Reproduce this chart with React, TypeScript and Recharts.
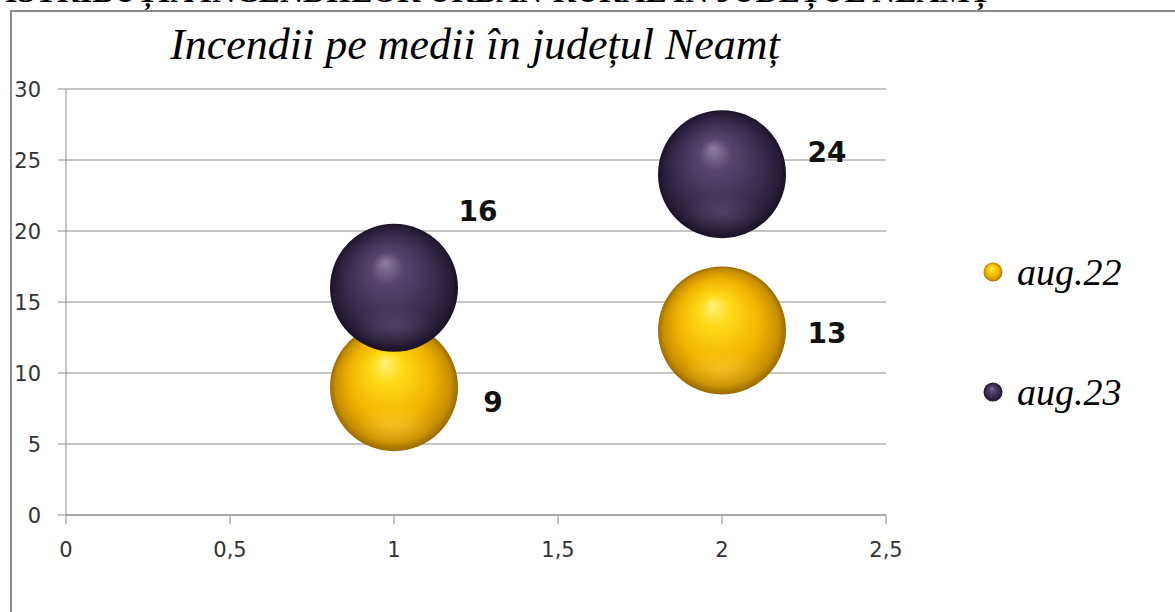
import React from 'react';
import { ScatterChart, Scatter, XAxis, YAxis, CartesianGrid } from 'recharts';

// series and axis values
const seriesNames = ['aug.22', 'aug.23'];
const xValues = [1, 2];
const aug22Values = [9, 13];
const aug23Values = [16, 24];
const xTicks = [0, 0.5, 1, 1.5, 2, 2.5];
const yTicks = [0, 5, 10, 15, 20, 25, 30];

const aug22Data = xValues.map((x, i) => ({ x, y: aug22Values[i] }));
const aug23Data = xValues.map((x, i) => ({ x, y: aug23Values[i] }));

// where each data label sits relative to its bubble centre
const labelNudge22 = [{ dx: 99, dy: 15 }, { dx: 105, dy: 3 }];
const labelNudge23 = [{ dx: 84, dy: -76 }, { dx: 105, dy: -22 }];

const BUBBLE_R = 64;

const makeSphere = (grad: string, rim: string, nudges: { dx: number; dy: number }[]) => (props: any) => {
  const { cx, cy, payload } = props;
  const i = xValues.indexOf(payload.x);
  const n = nudges[i] || { dx: 100, dy: 0 };
  return (
    <g>
      <circle cx={cx} cy={cy} r={BUBBLE_R} fill={`url(#${grad})`} />
      <ellipse cx={cx} cy={cy + BUBBLE_R * 0.6} rx={BUBBLE_R * 0.62} ry={BUBBLE_R * 0.32} fill={`url(#${rim})`} />
      <text
        x={cx + n.dx}
        y={cy + n.dy}
        textAnchor="middle"
        dominantBaseline="central"
        fontFamily="'DejaVu Sans', sans-serif"
        fontWeight="bold"
        fontSize={28}
        fill="#111"
      >
        {payload.y}
      </text>
    </g>
  );
};

const fmt = (v: number) => String(v).replace('.', ',');

const XTick = (props: any) => {
  const { x, y, payload } = props;
  return (
    <text x={x} y={y + 31} textAnchor="middle" fill="#333" fontSize={21} fontFamily="'DejaVu Sans', sans-serif">
      {fmt(payload.value)}
    </text>
  );
};

const YTick = (props: any) => {
  const { y, payload } = props;
  return (
    <text x={41} y={y + 8} textAnchor="end" fill="#333" fontSize={21} fontFamily="'DejaVu Sans', sans-serif">
      {fmt(payload.value)}
    </text>
  );
};

const App: React.FC = () => {
  return (
    <div style={{ position: 'absolute', left: 0, top: 0, width: 1175, height: 612, background: '#fff', overflow: 'hidden' }}>
      <div
        style={{
          position: 'absolute',
          left: -18,
          top: -25,
          whiteSpace: 'nowrap',
          lineHeight: '32px',
          fontFamily: "'Liberation Serif', serif",
          fontWeight: 'bold',
          fontSize: 32,
          color: '#000',
        }}
      >
        DISTRIBUȚIA INCENDIILOR URBAN-RURAL ÎN JUDEȚUL NEAMȚ
      </div>
      <div
        style={{
          position: 'absolute',
          left: 10,
          top: 10,
          width: 1175,
          height: 610,
          borderLeft: '2px solid #8a8a8a',
          borderTop: '2px solid #8a8a8a',
        }}
      />
      <div
        style={{
          position: 'absolute',
          left: 0,
          width: 950,
          top: 19,
          textAlign: 'center',
          fontFamily: "'Liberation Serif', serif",
          fontStyle: 'italic',
          fontSize: 44,
          color: '#000',
        }}
      >
        Incendii pe medii în județul Neamț
      </div>
      <div style={{ position: 'absolute', left: 0, top: 0 }}>
        <ScatterChart width={1175} height={612} margin={{ top: 89, right: 289, bottom: 57, left: 10 }}>
          <defs>
            <radialGradient id="goldSphere" cx="50%" cy="50%" r="50%" fx="43%" fy="30%">
              <stop offset="0%" stopColor="#fff27a" />
              <stop offset="25%" stopColor="#ffd915" />
              <stop offset="65%" stopColor="#f0b400" />
              <stop offset="90%" stopColor="#c88f00" />
              <stop offset="100%" stopColor="#9a6c00" />
            </radialGradient>
            <radialGradient id="goldRim" cx="50%" cy="50%" r="50%">
              <stop offset="0%" stopColor="#ffd84a" stopOpacity={0.45} />
              <stop offset="100%" stopColor="#ffd84a" stopOpacity={0} />
            </radialGradient>
            <radialGradient id="purpleSphere" cx="50%" cy="50%" r="50%" fx="43%" fy="30%">
              <stop offset="0%" stopColor="#8e7fa2" />
              <stop offset="25%" stopColor="#56466e" />
              <stop offset="65%" stopColor="#3c2e52" />
              <stop offset="92%" stopColor="#261c36" />
              <stop offset="100%" stopColor="#1a1226" />
            </radialGradient>
            <radialGradient id="purpleRim" cx="50%" cy="50%" r="50%">
              <stop offset="0%" stopColor="#6a5a82" stopOpacity={0.45} />
              <stop offset="100%" stopColor="#6a5a82" stopOpacity={0} />
            </radialGradient>
          </defs>
          <CartesianGrid horizontal vertical={false} stroke="#8c8c8c" />
          <XAxis
            type="number"
            dataKey="x"
            domain={[0, 2.5]}
            ticks={xTicks}
            interval={0}
            stroke="#8c8c8c"
            tickSize={9}
            height={40}
            tick={<XTick />}
          />
          <YAxis
            type="number"
            dataKey="y"
            domain={[0, 30]}
            ticks={yTicks}
            interval={0}
            stroke="#8c8c8c"
            tickSize={8}
            width={56}
            tick={<YTick />}
          />
          <Scatter
            name={seriesNames[0]}
            data={aug22Data}
            isAnimationActive={false}
            shape={makeSphere('goldSphere', 'goldRim', labelNudge22)}
          />
          <Scatter
            name={seriesNames[1]}
            data={aug23Data}
            isAnimationActive={false}
            shape={makeSphere('purpleSphere', 'purpleRim', labelNudge23)}
          />
        </ScatterChart>
      </div>
      <div style={{ position: 'absolute', left: 981, top: 250, display: 'flex', flexDirection: 'column', gap: 76 }}>
        {seriesNames.map((name, i) => (
          <div key={name} style={{ display: 'flex', alignItems: 'center', height: 44 }}>
            <svg width={24} height={24} style={{ marginRight: 12 }}>
              <circle cx={12} cy={12} r={9.5} fill={i === 0 ? 'url(#goldSphere)' : 'url(#purpleSphere)'} />
            </svg>
            <span style={{ fontFamily: "'Liberation Serif', serif", fontStyle: 'italic', fontSize: 38, color: '#000' }}>{name}</span>
          </div>
        ))}
      </div>
    </div>
  );
};

export default App;
